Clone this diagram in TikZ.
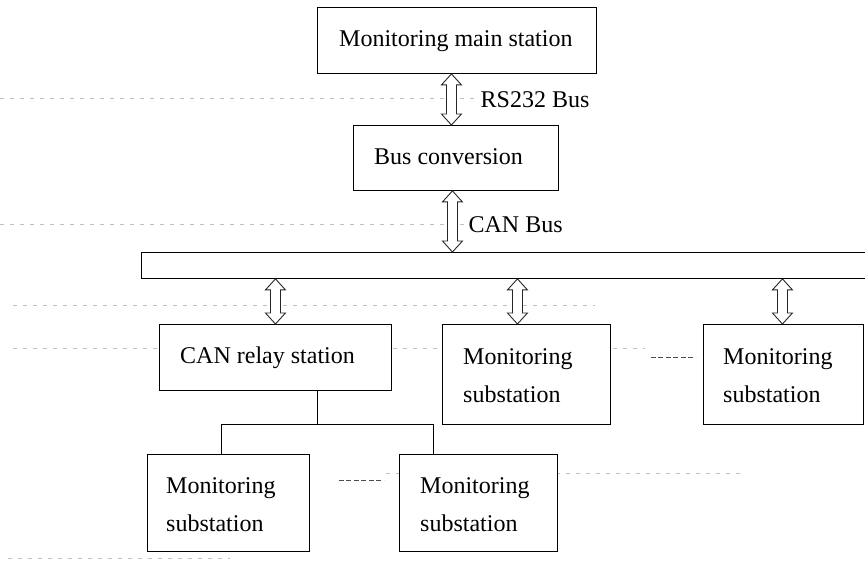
\documentclass[tikz,border=0pt]{standalone}
\usepackage{fontspec}
\setmainfont{Liberation Serif}
\usetikzlibrary{calc}

\tikzset{
  box/.style={draw, line width=0.9pt, fill=white, inner sep=0pt, anchor=north west},
  txt/.style={anchor=base west, inner sep=0pt, font=\fontsize{24}{38}\selectfont},
  gridline/.style={gray!50, line width=0.6pt, dash pattern=on 4pt off 6pt},
  ellip/.style={black!70, line width=0.8pt, dash pattern=on 5pt off 2.5pt},
  wire/.style={line width=1pt},
  dblarrow/.style={draw=black!85, fill=white, line width=0.9pt, line join=miter},
}

% hollow two-headed arrow: x taken from the first point, runs from #1 down to #2
\newcommand\busarrow[2]{%
  \path[dblarrow] let \p1=#1, \p2=#2 in
    (\x1,\y1) -- (\x1+10pt,\y1-11pt) -- (\x1+5pt,\y1-11pt)
    -- (\x1+5pt,\y2+11pt) -- (\x1+10pt,\y2+11pt) -- (\x1,\y2)
    -- (\x1-10pt,\y2+11pt) -- (\x1-5pt,\y2+11pt)
    -- (\x1-5pt,\y1-11pt) -- (\x1-10pt,\y1-11pt) -- cycle;}

\newcommand\twolines[2]{\begin{tabular}[t]{@{}l@{}}#1\\#2\end{tabular}}

\begin{document}
\begin{tikzpicture}[x=1pt,y=-1pt]
\useasboundingbox (0,0) rectangle (865,561);

% faint layout guide lines
\draw[gridline] (0,98) -- (476,98);
\draw[gridline] (0,224) -- (464,224);
\draw[gridline] (13,305) -- (595,305);
\draw[gridline] (13,348) -- (645,348);
\draw[gridline] (386,473) -- (740,473);
\draw[gridline] (8,558) -- (230,558);

% boxes
\node[box, minimum width=279, minimum height=66] (main)  at (317,7)   {};
\node[box, minimum width=205, minimum height=65] (conv)  at (353,125) {};
\node[box, minimum width=740, minimum height=26] (bar)   at (141,252) {};
\node[box, minimum width=232, minimum height=66] (relay) at (159,324) {};
\node[box, minimum width=168, minimum height=100] (sub1) at (442,324) {};
\node[box, minimum width=160, minimum height=100] (sub2) at (703,324) {};
\node[box, minimum width=162, minimum height=97]  (subA) at (147,454) {};
\node[box, minimum width=158, minimum height=97]  (subB) at (399,454) {};

% box texts
\node[txt] (mainT)  at ([shift={(22,40)}]main.north west)  {Monitoring main station};
\node[txt] (convT)  at ([shift={(21,40)}]conv.north west)  {Bus conversion};
\node[txt] (relayT) at ([shift={(21,39)}]relay.north west) {CAN relay station};
\node[txt] (sub1T)  at ([shift={(21,41)}]sub1.north west)  {\twolines{Monitoring}{substation}};
\node[txt] (sub2T)  at ([shift={(20,41)}]sub2.north west)  {\twolines{Monitoring}{substation}};
\node[txt] (subAT)  at ([shift={(19,39)}]subA.north west)  {\twolines{Monitoring}{substation}};
\node[txt] (subBT)  at ([shift={(21,39)}]subB.north west)  {\twolines{Monitoring}{substation}};

% bus arrows
\coordinate (in1) at ([xshift=-9pt]sub1.north);
\coordinate (in2) at ([xshift=-1pt]sub2.north);
\busarrow{([xshift=-5.5pt]main.south)}{(conv.north)}
\busarrow{([xshift=-3.5pt]conv.south)}{(bar.north)}
\busarrow{(bar.south -| relay.north)}{(relay.north)}
\busarrow{(bar.south -| in1)}{(in1)}
\busarrow{(bar.south -| in2)}{(in2)}

% bus labels
\node[txt] (rsT)  at ([shift={(23.5,34)}]main.south) {RS232 Bus};
\node[txt] (canT) at ([shift={(12.5,42)}]conv.south) {CAN Bus};

% relay station branches
\coordinate (fork) at ([xshift=42pt]relay.south);
\draw[wire] (fork) -- ++(0,34) coordinate (split);
\draw[wire] ([xshift=-7pt]subA.north) |- (split) -| ([xshift=-45pt]subB.north);

% ellipses between repeated substations
\draw[ellip] ([shift={(40,33)}]sub1.north east) -- ++(45,0);
\draw[ellip] ([shift={(29,26)}]subA.north east) -- ++(45,0);
\end{tikzpicture}
\end{document}
